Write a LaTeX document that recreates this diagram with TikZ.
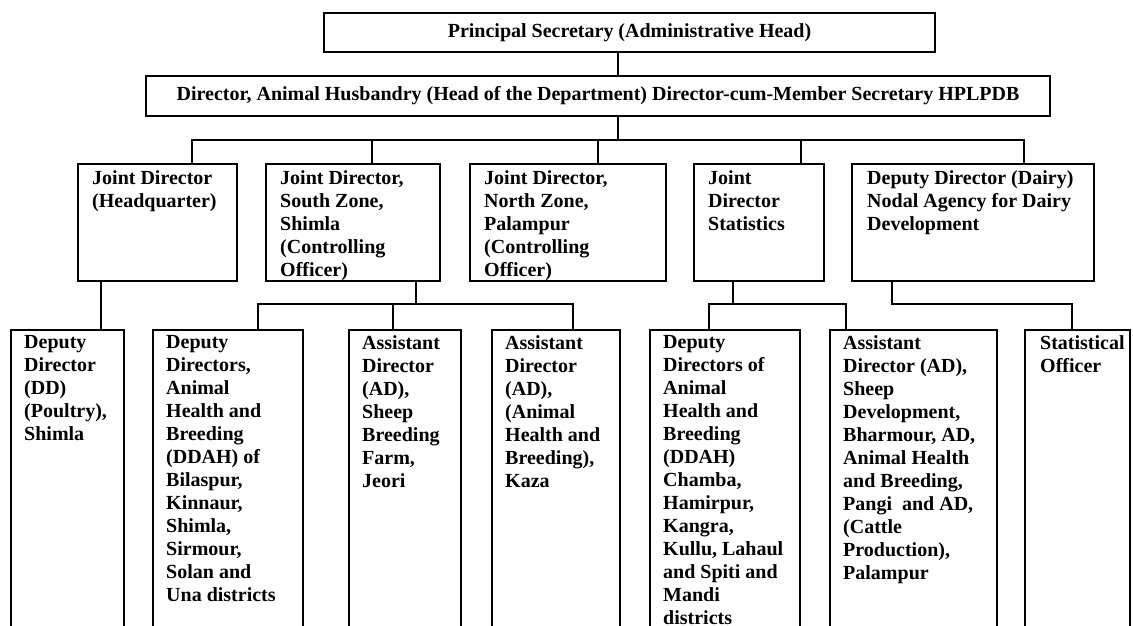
\documentclass[tikz,border=0pt]{standalone}
\usepackage{fontspec}
\setmainfont{Liberation Serif}
\usetikzlibrary{calc}
\begin{document}
\begin{tikzpicture}[x=1pt,y=-1pt,
  box/.style={draw, line width=1.8pt, inner sep=0pt, outer sep=0pt, anchor=north west},
  txt/.style={anchor=north west, inner sep=0pt, align=left,
    font=\bfseries\fontsize{20}{23}\selectfont,
    execute at begin node={\rule{0pt}{14pt}}},
  ctxt/.style={font=\bfseries\fontsize{20}{23}\selectfont},
  link/.style={line width=1.8pt}]
\clip (0,0) rectangle (1133,626);
% top boxes
\node[box, ctxt, minimum width=611pt, minimum height=39pt] (ps) at (324,13)
  {Principal Secretary (Administrative Head)};
\node[box, ctxt, minimum width=904pt, minimum height=40pt] (dir) at (146,76)
  {Director, Animal Husbandry (Head of the Department) Director-cum-Member Secretary HPLPDB};
% level 2 boxes
\node[box, minimum width=159pt, minimum height=117pt] (jd1) at (78,164) {};
\node[box, minimum width=174pt, minimum height=117pt] (jd2) at (266,164) {};
\node[box, minimum width=196pt, minimum height=117pt] (jd3) at (470,164) {};
\node[box, minimum width=130pt, minimum height=117pt] (jd4) at (694,164) {};
\node[box, minimum width=242pt, minimum height=117pt] (jd5) at (852,164) {};
\node[txt] (t1) at ($(jd1.north west)+(14,6)$) {Joint Director\\(Headquarter)};
\node[txt] (t2) at ($(jd2.north west)+(14,6)$) {Joint Director,\\South Zone,\\Shimla\\(Controlling\\Officer)};
\node[txt] (t3) at ($(jd3.north west)+(14,6)$) {Joint Director,\\North Zone,\\Palampur\\(Controlling\\Officer)};
\node[txt] (t4) at ($(jd4.north west)+(14,6)$) {Joint\\Director\\Statistics};
\node[txt] (t5) at ($(jd5.north west)+(15,6)$) {Deputy Director (Dairy)\\Nodal Agency for Dairy\\Development};
% bottom boxes
\node[box, minimum width=113pt, minimum height=310pt] (b1) at (11,330) {};
\node[box, minimum width=150pt, minimum height=310pt] (b2) at (153,330) {};
\node[box, minimum width=112pt, minimum height=310pt] (b3) at (349,330) {};
\node[box, minimum width=128pt, minimum height=310pt] (b4) at (492,330) {};
\node[box, minimum width=150pt, minimum height=310pt] (b5) at (650,330) {};
\node[box, minimum width=167pt, minimum height=310pt] (b6) at (830,330) {};
\node[box, minimum width=105pt, minimum height=310pt] (b7) at (1025,330) {};
\node[txt] (u1) at ($(b1.north west)+(13,5)$) {Deputy\\Director\\(DD)\\(Poultry),\\Shimla};
\node[txt] (u2) at ($(b2.north west)+(13,5)$) {Deputy\\Directors,\\Animal\\Health and\\Breeding\\(DDAH) of\\Bilaspur,\\Kinnaur,\\Shimla,\\Sirmour,\\Solan and\\Una districts};
\node[txt] (u3) at ($(b3.north west)+(13,5)$) {Assistant\\Director\\(AD),\\Sheep\\Breeding\\Farm,\\Jeori};
\node[txt] (u4) at ($(b4.north west)+(13,5)$) {Assistant\\Director\\(AD),\\(Animal\\Health and\\Breeding),\\Kaza};
\node[txt] (u5) at ($(b5.north west)+(13,5)$) {Deputy\\Directors of\\Animal\\Health and\\Breeding\\(DDAH)\\Chamba,\\Hamirpur,\\Kangra,\\Kullu, Lahaul\\and Spiti and\\Mandi\\districts};
\node[txt] (u6) at ($(b6.north west)+(13,5)$) {Assistant\\Director (AD),\\Sheep\\Development,\\Bharmour, AD,\\Animal Health\\and Breeding,\\Pangi\ \ and AD,\\(Cattle\\Production),\\Palampur};
\node[txt] (u7) at ($(b7.north west)+(15,5)$) {Statistical\\Officer};
% connector coordinates
\coordinate (xc) at (618,0);
\coordinate (bus) at (618,140);
\coordinate (x1) at (192,0);
\coordinate (x2) at (372,0);
\coordinate (x3) at (598,0);
\coordinate (x4) at (801,0);
\coordinate (x5) at (1024,0);
\coordinate (ybus) at (0,304);
\coordinate (q1) at (101,0);
\coordinate (q2) at (416,0);
\coordinate (q4) at (733,0);
\coordinate (q5) at (892,0);
\coordinate (p2) at (258,0);
\coordinate (p3) at (393,0);
\coordinate (p4) at (573,0);
\coordinate (p5) at (709,0);
\coordinate (p6) at (846,0);
\coordinate (p7) at (1072,0);
% connectors
\draw[link] (ps.south -| xc) -- (dir.north -| xc);
\draw[link] (dir.south -| xc) -- (bus);
\draw[link] (jd1.north -| x1) -- (x1 |- bus) -- (x5 |- bus) -- (jd5.north -| x5);
\draw[link] (jd2.north -| x2) -- (x2 |- bus);
\draw[link] (jd3.north -| x3) -- (x3 |- bus);
\draw[link] (jd4.north -| x4) -- (x4 |- bus);
\draw[link] (jd1.south -| q1) -- (b1.north -| q1);
\draw[link] (jd2.south -| q2) -- (q2 |- ybus);
\draw[link] (b2.north -| p2) -- (p2 |- ybus) -- (p4 |- ybus) -- (b4.north -| p4);
\draw[link] (b3.north -| p3) -- (p3 |- ybus);
\draw[link] (jd4.south -| q4) -- (q4 |- ybus);
\draw[link] (b5.north -| p5) -- (p5 |- ybus) -- (p6 |- ybus) -- (b6.north -| p6);
\draw[link] (jd5.south -| q5) -- (q5 |- ybus) -- (p7 |- ybus) -- (b7.north -| p7);
\end{tikzpicture}
\end{document}
